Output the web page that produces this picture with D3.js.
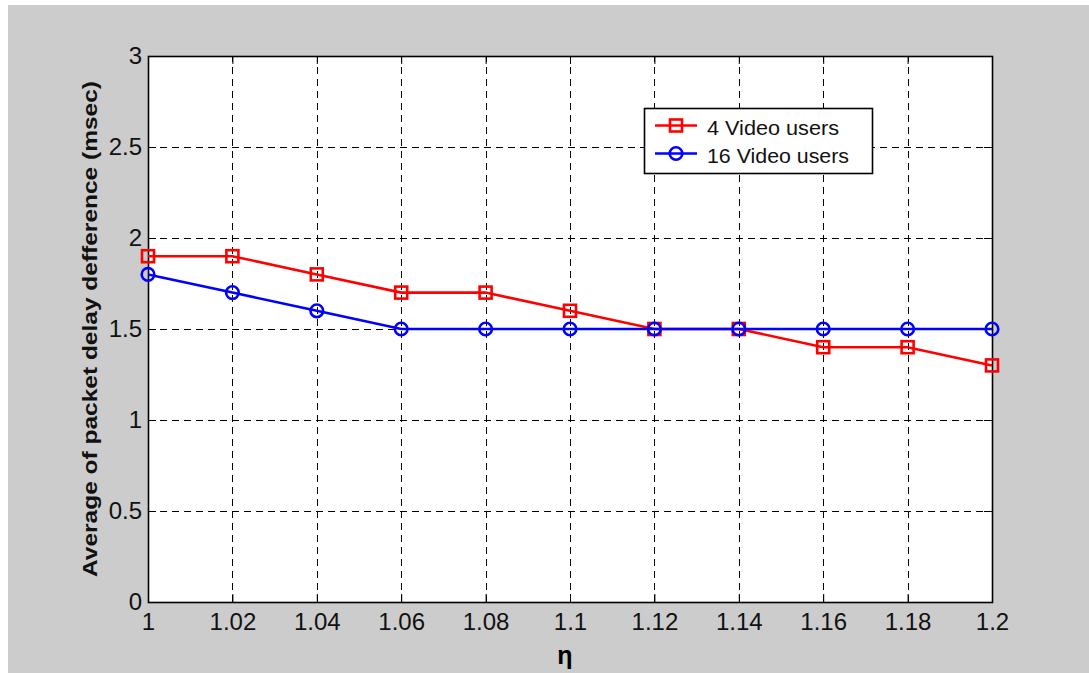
<!DOCTYPE html>
<html>
<head>
<meta charset="utf-8">
<script src="https://cdn.jsdelivr.net/npm/d3@7"></script>
<style>
  body { margin: 0; background: #fff; }
  svg text { font-family: "Liberation Sans", Arial, sans-serif; }
</style>
</head>
<body>
<script>
// data
const eta = [1, 1.02, 1.04, 1.06, 1.08, 1.1, 1.12, 1.14, 1.16, 1.18, 1.2];
const video4 = [1.9, 1.9, 1.8, 1.7, 1.7, 1.6, 1.5, 1.5, 1.4, 1.4, 1.3];
const video16 = [1.8, 1.7, 1.6, 1.5, 1.5, 1.5, 1.5, 1.5, 1.5, 1.5, 1.5];
const xTicks = [1, 1.02, 1.04, 1.06, 1.08, 1.1, 1.12, 1.14, 1.16, 1.18, 1.2];
const yTicks = [0, 0.5, 1, 1.5, 2, 2.5, 3];
const seriesNames = ["4 Video users", "16 Video users"];

const W = 1089, H = 673;
const pLeft = 148, pRight = 992, pTop = 56, pBottom = 602;

const svg = d3.select("body").append("svg")
  .attr("width", W)
  .attr("height", H);

// figure background
svg.append("rect")
  .attr("x", 8).attr("y", 5)
  .attr("width", W - 8).attr("height", H - 5)
  .attr("fill", "#cccccc");

const x = d3.scaleLinear().domain([1, 1.2]).range([pLeft, pRight]);
const y = d3.scaleLinear().domain([0, 3]).range([pBottom, pTop]);

svg.append("rect")
  .attr("x", pLeft).attr("y", pTop)
  .attr("width", pRight - pLeft).attr("height", pBottom - pTop)
  .attr("fill", "#fff");

// dashed grid
const grid = svg.append("g")
  .attr("stroke", "#000")
  .attr("stroke-width", 1)
  .attr("stroke-dasharray", "7,5")
  .attr("shape-rendering", "crispEdges");

grid.selectAll("line.vx")
  .data(xTicks.slice(1, -1))
  .enter().append("line")
  .attr("x1", d => Math.round(x(d)) + 0.5)
  .attr("x2", d => Math.round(x(d)) + 0.5)
  .attr("y1", pBottom)
  .attr("y2", pTop);

grid.selectAll("line.hy")
  .data(yTicks.slice(1, -1))
  .enter().append("line")
  .attr("y1", d => Math.round(y(d)) + 0.5)
  .attr("y2", d => Math.round(y(d)) + 0.5)
  .attr("x1", pLeft)
  .attr("x2", pRight);

// axes, ticks inward on all sides
const tickLen = 8;
const fmt = d => String(d);

svg.append("g")
  .attr("transform", `translate(0,${pBottom})`)
  .call(d3.axisBottom(x).tickValues(xTicks).tickFormat(fmt).tickSizeInner(-tickLen).tickSizeOuter(0).tickPadding(11))
  .call(g => g.select(".domain").remove())
  .call(g => g.selectAll("text").attr("font-size", 24).attr("fill", "#111"));

svg.append("g")
  .attr("transform", `translate(0,${pTop})`)
  .call(d3.axisTop(x).tickValues(xTicks).tickFormat("").tickSizeInner(-tickLen).tickSizeOuter(0))
  .call(g => g.select(".domain").remove());

svg.append("g")
  .attr("transform", `translate(${pLeft},0)`)
  .call(d3.axisLeft(y).tickValues(yTicks).tickFormat(fmt).tickSizeInner(-tickLen).tickSizeOuter(0).tickPadding(6))
  .call(g => g.select(".domain").remove())
  .call(g => g.selectAll("text").attr("font-size", 24).attr("fill", "#111"));

svg.append("g")
  .attr("transform", `translate(${pRight},0)`)
  .call(d3.axisRight(y).tickValues(yTicks).tickFormat("").tickSizeInner(-tickLen).tickSizeOuter(0))
  .call(g => g.select(".domain").remove());

svg.append("rect")
  .attr("x", pLeft + 0.5).attr("y", pTop + 0.5)
  .attr("width", pRight - pLeft).attr("height", pBottom - pTop)
  .attr("fill", "none")
  .attr("stroke", "#000")
  .attr("stroke-width", 1.6);

// series
const line = d3.line()
  .x((d, i) => x(eta[i]))
  .y(d => y(d));

svg.append("path")
  .datum(video4)
  .attr("d", line)
  .attr("fill", "none")
  .attr("stroke", "#ff0000")
  .attr("stroke-width", 2.6);

svg.append("path")
  .datum(video16)
  .attr("d", line)
  .attr("fill", "none")
  .attr("stroke", "#0000ff")
  .attr("stroke-width", 2.6);

const sq = 12;
svg.selectAll("rect.m4")
  .data(video4)
  .enter().append("rect")
  .attr("class", "m4")
  .attr("x", (d, i) => x(eta[i]) - sq / 2)
  .attr("y", d => y(d) - sq / 2)
  .attr("width", sq).attr("height", sq)
  .attr("fill", "none")
  .attr("stroke", "#ff0000")
  .attr("stroke-width", 2.6);

svg.selectAll("circle.m16")
  .data(video16)
  .enter().append("circle")
  .attr("class", "m16")
  .attr("cx", (d, i) => x(eta[i]))
  .attr("cy", d => y(d))
  .attr("r", 6.3)
  .attr("fill", "none")
  .attr("stroke", "#0000ff")
  .attr("stroke-width", 2.6);

// legend
const lg = svg.append("g");
lg.append("rect")
  .attr("x", 644.5).attr("y", 108.5)
  .attr("width", 228).attr("height", 65)
  .attr("fill", "#fff")
  .attr("stroke", "#000")
  .attr("stroke-width", 1.6);

const colors = ["#ff0000", "#0000ff"];
const textLens = [132, 142];
seriesNames.forEach((name, i) => {
  const cy = 125.5 + i * 28;
  lg.append("line")
    .attr("x1", 655).attr("x2", 697)
    .attr("y1", cy).attr("y2", cy)
    .attr("stroke", colors[i])
    .attr("stroke-width", 2.6);
  if (i === 0) {
    lg.append("rect")
      .attr("x", 676 - sq / 2).attr("y", cy - sq / 2)
      .attr("width", sq).attr("height", sq)
      .attr("fill", "none")
      .attr("stroke", colors[i])
      .attr("stroke-width", 2.6);
  } else {
    lg.append("circle")
      .attr("cx", 676).attr("cy", cy)
      .attr("r", 6.3)
      .attr("fill", "none")
      .attr("stroke", colors[i])
      .attr("stroke-width", 2.6);
  }
  lg.append("text")
    .attr("x", 707).attr("y", cy + 9.5)
    .attr("font-size", 20)
    .attr("fill", "#111")
    .attr("textLength", textLens[i])
    .attr("lengthAdjust", "spacingAndGlyphs")
    .text(name);
});

// axis labels
svg.append("text")
  .attr("x", x(1.1) - 5)
  .attr("y", 664)
  .attr("text-anchor", "middle")
  .attr("font-size", 25)
  .attr("font-weight", "bold")
  .text("η");

svg.append("text")
  .attr("transform", `translate(97,${(pTop + pBottom) / 2}) rotate(-90)`)
  .attr("text-anchor", "middle")
  .attr("font-size", 21)
  .attr("font-weight", "bold")
  .attr("fill", "#111")
  .attr("textLength", 496)
  .attr("lengthAdjust", "spacingAndGlyphs")
  .text("Average of packet delay defference (msec)");
</script>
</body>
</html>
